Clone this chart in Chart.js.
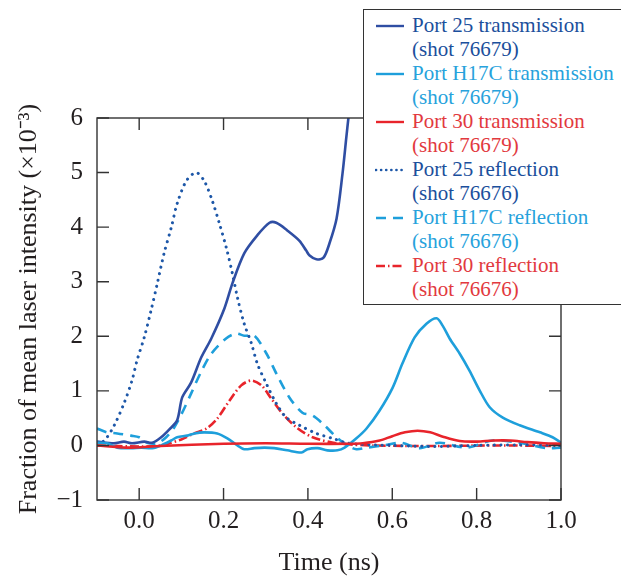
<!DOCTYPE html>
<html>
<head>
<meta charset="utf-8">
<script src="https://cdn.jsdelivr.net/npm/chart.js@4"></script>
<style>
  body { margin: 0; background: #fff; overflow: hidden; }
  #wrap { position: relative; width: 621px; height: 580px; }
  #legend {
    position: absolute; left: 363px; top: 9px; width: 280px; height: 294px;
    border: 1px solid #333; background: #fff; box-sizing: content-box;
    font-family: "Liberation Serif", serif; font-size: 21px; line-height: 24px;
  }
  .item { position: absolute; left: 0; }
  .item svg { position: absolute; left: 11px; top: 10px; }
  .item .txt { position: absolute; left: 48px; top: 0; white-space: nowrap; }
</style>
</head>
<body>
<div id="wrap">
  <canvas id="chart" width="621" height="580"></canvas>
  <div id="legend"></div>
</div>
<script>
// axis ticks
const xTicks = [0.0, 0.2, 0.4, 0.6, 0.8, 1.0];
const yTicks = [-1, 0, 1, 2, 3, 4, 5, 6];

// Port 25 transmission (shot 76679)
const p25TransT = [-0.10, -0.06, -0.036, -0.017, 0.012, 0.031, 0.052, 0.071, 0.090, 0.102, 0.123, 0.147, 0.171, 0.202, 0.221, 0.249, 0.280, 0.309, 0.325, 0.351, 0.380, 0.396, 0.404, 0.420, 0.437, 0.451, 0.468, 0.482, 0.491, 0.496, 0.502];
const p25TransV = [0.07, 0.04, 0.07, 0.04, 0.07, 0.05, 0.15, 0.29, 0.46, 0.88, 1.15, 1.61, 1.96, 2.51, 2.97, 3.52, 3.85, 4.08, 4.08, 3.94, 3.75, 3.57, 3.48, 3.41, 3.44, 3.70, 4.16, 4.98, 5.64, 6.0, 6.4];

// Port H17C transmission (shot 76679)
const h17TransT = [-0.10, -0.076, -0.052, -0.019, 0.005, 0.031, 0.052, 0.076, 0.090, 0.114, 0.131, 0.154, 0.185, 0.209, 0.233, 0.249, 0.273, 0.297, 0.320, 0.351, 0.385, 0.399, 0.423, 0.446, 0.470, 0.487, 0.515, 0.539, 0.570, 0.601, 0.624, 0.653, 0.681, 0.705, 0.719, 0.736, 0.760, 0.783, 0.807, 0.831, 0.862, 0.902, 0.950, 0.980, 1.0];
const h17TransV = [0.05, 0.04, -0.04, -0.05, -0.04, -0.05, 0.0, 0.09, 0.15, 0.18, 0.22, 0.24, 0.22, 0.13, 0.0, -0.07, -0.05, -0.04, -0.05, -0.09, -0.13, -0.07, -0.05, -0.09, -0.09, -0.04, 0.13, 0.31, 0.64, 1.06, 1.50, 1.98, 2.23, 2.33, 2.20, 1.96, 1.68, 1.37, 1.01, 0.70, 0.51, 0.37, 0.24, 0.15, 0.05];

// Port 30 transmission (shot 76679)
const p30TransT = [-0.10, -0.03, 0.05, 0.2, 0.3, 0.4, 0.5, 0.53, 0.57, 0.60, 0.63, 0.66, 0.69, 0.72, 0.76, 0.80, 0.84, 0.88, 0.92, 0.96, 1.0];
const p30TransV = [0.0, -0.04, -0.01, 0.03, 0.04, 0.03, 0.03, 0.04, 0.09, 0.17, 0.24, 0.27, 0.24, 0.16, 0.08, 0.07, 0.09, 0.09, 0.06, 0.04, 0.03];

// Port 25 reflection (shot 76676)
const p25ReflT = [-0.10, -0.09, -0.078, -0.059, -0.036, -0.017, -0.005, 0.012, 0.028, 0.043, 0.059, 0.076, 0.090, 0.112, 0.135, 0.154, 0.173, 0.190, 0.207, 0.221, 0.233, 0.249, 0.266, 0.280, 0.301, 0.325, 0.349, 0.380, 0.420, 0.458, 0.491, 0.529, 0.6, 0.7, 0.8, 0.9, 1.0];
const p25ReflV = [0.05, 0.05, 0.13, 0.37, 0.77, 1.19, 1.56, 1.98, 2.47, 2.97, 3.52, 3.99, 4.43, 4.85, 5.00, 4.85, 4.49, 4.07, 3.61, 3.15, 2.71, 2.23, 1.87, 1.50, 1.14, 0.77, 0.51, 0.37, 0.22, 0.13, 0.05, 0.02, 0.0, -0.02, 0.0, 0.01, 0.0];

// Port H17C reflection (shot 76676)
const h17ReflT = [-0.10, -0.076, -0.052, -0.019, 0.0, 0.019, 0.043, 0.064, 0.083, 0.102, 0.123, 0.145, 0.171, 0.206, 0.230, 0.249, 0.273, 0.302, 0.325, 0.356, 0.387, 0.411, 0.435, 0.468, 0.494, 0.515, 0.54, 0.58, 0.62, 0.665, 0.712, 0.776, 0.838, 0.902, 0.966, 1.0];
const h17ReflV = [0.31, 0.24, 0.22, 0.18, 0.15, 0.05, 0.04, 0.15, 0.33, 0.60, 0.95, 1.32, 1.68, 1.96, 2.05, 2.01, 2.01, 1.68, 1.32, 0.88, 0.60, 0.55, 0.40, 0.15, 0.0, -0.07, -0.04, 0.0, 0.05, -0.05, 0.05, -0.04, 0.09, 0.05, -0.05, -0.04];

// Port 30 reflection (shot 76676)
const p30ReflT = [-0.10, 0.0, 0.05, 0.10, 0.13, 0.16, 0.185, 0.214, 0.242, 0.266, 0.290, 0.313, 0.339, 0.373, 0.411, 0.468, 0.55, 0.7, 0.85, 1.0];
const p30ReflV = [0.0, -0.02, 0.0, 0.11, 0.22, 0.31, 0.49, 0.82, 1.10, 1.19, 1.10, 0.86, 0.59, 0.33, 0.15, 0.04, 0.0, -0.01, 0.0, -0.01];

const DARK = "#2f4ea3", DOTBLUE = "#1d57a8", LIGHT = "#1e9fdb", RED = "#e8242b";
const INK = "#231f20";
const FONT = "Liberation Serif";

const pts = (t, v) => t.map((x, i) => ({ x: x, y: v[i] }));

const series = [
    { label: ["Port 25 transmission", "(shot 76679)"], t: p25TransT, v: p25TransV, color: DARK, text: "#1b4f9c", dash: [], order: 3 },
    { label: ["Port H17C transmission", "(shot 76679)"], t: h17TransT, v: h17TransV, color: LIGHT, text: "#27a2dc", dash: [], order: 2 },
    { label: ["Port 30 transmission", "(shot 76679)"], t: p30TransT, v: p30TransV, color: RED, text: "#e2393e", dash: [], order: 1 },
    { label: ["Port 25 reflection", "(shot 76676)"], t: p25ReflT, v: p25ReflV, color: DOTBLUE, text: "#1b4f9c", dash: [0.1, 6.5], cap: "round", order: 4 },
    { label: ["Port H17C reflection", "(shot 76676)"], t: h17ReflT, v: h17ReflV, color: LIGHT, text: "#27a2dc", dash: [10, 7], order: 5 },
    { label: ["Port 30 reflection", "(shot 76676)"], t: p30ReflT, v: p30ReflV, color: RED, text: "#e2393e", dash: [9, 3, 1.5, 3], order: 6 }
];

// frame + inward tick marks on all four sides
const framePlugin = {
    id: "frame",
    afterDatasetsDraw(chart) {
        const { ctx, chartArea: a, scales } = chart;
        ctx.save();
        ctx.strokeStyle = "#333";
        ctx.lineWidth = 1.4;
        ctx.strokeRect(a.left, a.top, a.right - a.left, a.bottom - a.top);
        ctx.beginPath();
        xTicks.forEach(v => {
            const px = scales.x.getPixelForValue(v);
            ctx.moveTo(px, a.bottom); ctx.lineTo(px, a.bottom - 12);
            ctx.moveTo(px, a.top); ctx.lineTo(px, a.top + 12);
        });
        yTicks.forEach(v => {
            const py = scales.y.getPixelForValue(v);
            ctx.moveTo(a.left, py); ctx.lineTo(a.left + 12, py);
            ctx.moveTo(a.right, py); ctx.lineTo(a.right - 12, py);
        });
        ctx.stroke();
        ctx.restore();
    }
};

new Chart(document.getElementById("chart"), {
    type: "line",
    data: {
        datasets: series.map(s => ({
            label: s.label.join(" "),
            data: pts(s.t, s.v),
            borderColor: s.color,
            borderWidth: s.cap ? 3 : 2.6,
            borderDash: s.dash,
            borderCapStyle: s.cap || "butt",
            tension: 0.3,
            pointRadius: 0,
            fill: false,
            order: s.order
        }))
    },
    options: {
        responsive: false,
        animation: false,
        layout: { padding: { top: 118, right: 60, left: 0, bottom: 0 } },
        plugins: { legend: { display: false }, tooltip: { enabled: false } },
        scales: {
            x: {
                type: "linear",
                min: -0.1,
                max: 1.0,
                afterFit: s => { s.height = 80; },
                afterBuildTicks: s => { s.ticks = xTicks.map(v => ({ value: v })); },
                grid: { display: false, drawTicks: false },
                border: { display: false },
                ticks: {
                    padding: 6,
                    color: INK,
                    font: { family: FONT, size: 25 },
                    maxRotation: 0,
                    callback: v => v.toFixed(1)
                },
                title: {
                    display: true,
                    text: "Time (ns)",
                    color: INK,
                    font: { family: FONT, size: 26 },
                    padding: { top: 0, bottom: 1 }
                }
            },
            y: {
                min: -1,
                max: 6,
                afterFit: s => { s.width = 97; },
                afterBuildTicks: s => { s.ticks = yTicks.map(v => ({ value: v })); },
                grid: { display: false, drawTicks: false },
                border: { display: false },
                ticks: {
                    padding: 14,
                    color: INK,
                    font: { family: FONT, size: 25 },
                    callback: v => String(v).replace("-", "\u2212")
                },
                title: {
                    display: true,
                    text: "Fraction of mean laser intensity (\u00d710\u207b\u00b3)",
                    color: INK,
                    font: { family: FONT, size: 26 },
                    padding: { top: 14, bottom: 0 }
                }
            }
        }
    },
    plugins: [framePlugin]
});

// legend box (two text lines per entry)
const legend = document.getElementById("legend");
series.forEach((s, i) => {
    const item = document.createElement("div");
    item.className = "item";
    item.style.top = (3 + i * 48) + "px";
    const dash = s.dash.length ? s.dash.join(" ") : "none";
    item.innerHTML =
        '<svg width="30" height="6"><line x1="1" y1="3" x2="29" y2="3" stroke="' + s.color +
        '" stroke-width="' + (s.cap ? 2.6 : 2.4) + '" stroke-dasharray="' + (s.cap ? "0.1 5" : dash) +
        '" stroke-linecap="' + (s.cap || "butt") + '"/></svg>' +
        '<div class="txt" style="color:' + s.text + '">' + s.label[0] + "<br>" + s.label[1] + "</div>";
    legend.appendChild(item);
});
</script>
</body>
</html>
